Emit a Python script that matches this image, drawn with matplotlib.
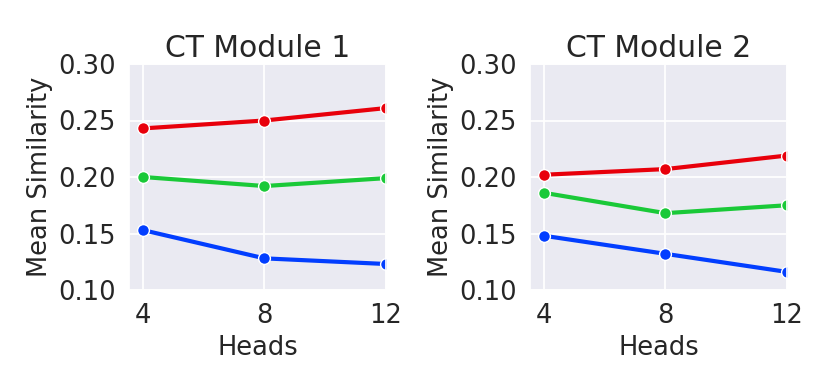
import numpy as np
import matplotlib.pyplot as plt
import seaborn as sns

sns.set_theme(style='darkgrid')
plt.rcParams['font.family'] = ['DejaVu Sans']

heads = [4, 8, 12]
titles = ['CT Module 1', 'CT Module 2']

# series per panel: red, green, blue
red_vals = [[0.243, 0.250, 0.261], [0.202, 0.207, 0.219]]
green_vals = [[0.200, 0.192, 0.199], [0.186, 0.168, 0.175]]
blue_vals = [[0.153, 0.128, 0.123], [0.148, 0.132, 0.116]]

colors = ['#e8000b', '#1ac938', '#023eff']

fig = plt.figure(figsize=(8.3, 3.89), dpi=100)
lefts = [129 / 830, 530 / 830]
width = 257 / 830
bottom = (389 - 290) / 389
height = (290 - 64) / 389

for i in range(2):
    ax = fig.add_axes([lefts[i], bottom, width, height])
    for vals, col in zip([red_vals[i], green_vals[i], blue_vals[i]], colors):
        ax.plot(heads, vals, color=col, lw=3, marker='o', ms=8.5,
                mec='white', mew=1.0)
    ax.set_xlim(3.54, 12)
    ax.set_ylim(0.10, 0.30)
    ax.set_xticks(heads)
    ax.set_yticks([0.10, 0.15, 0.20, 0.25, 0.30])
    ax.set_yticklabels(['0.10', '0.15', '0.20', '0.25', '0.30'])
    ax.tick_params(labelsize=18.5, pad=3.5)
    ax.set_title(titles[i], fontsize=21.5, pad=5)
    ax.set_xlabel('Heads', fontsize=18.5, labelpad=4)
    ax.set_ylabel('Mean Similarity', fontsize=18.5, labelpad=4)
    ax.grid(color='white', lw=1.3)

fig.savefig('out.png', dpi=100)
